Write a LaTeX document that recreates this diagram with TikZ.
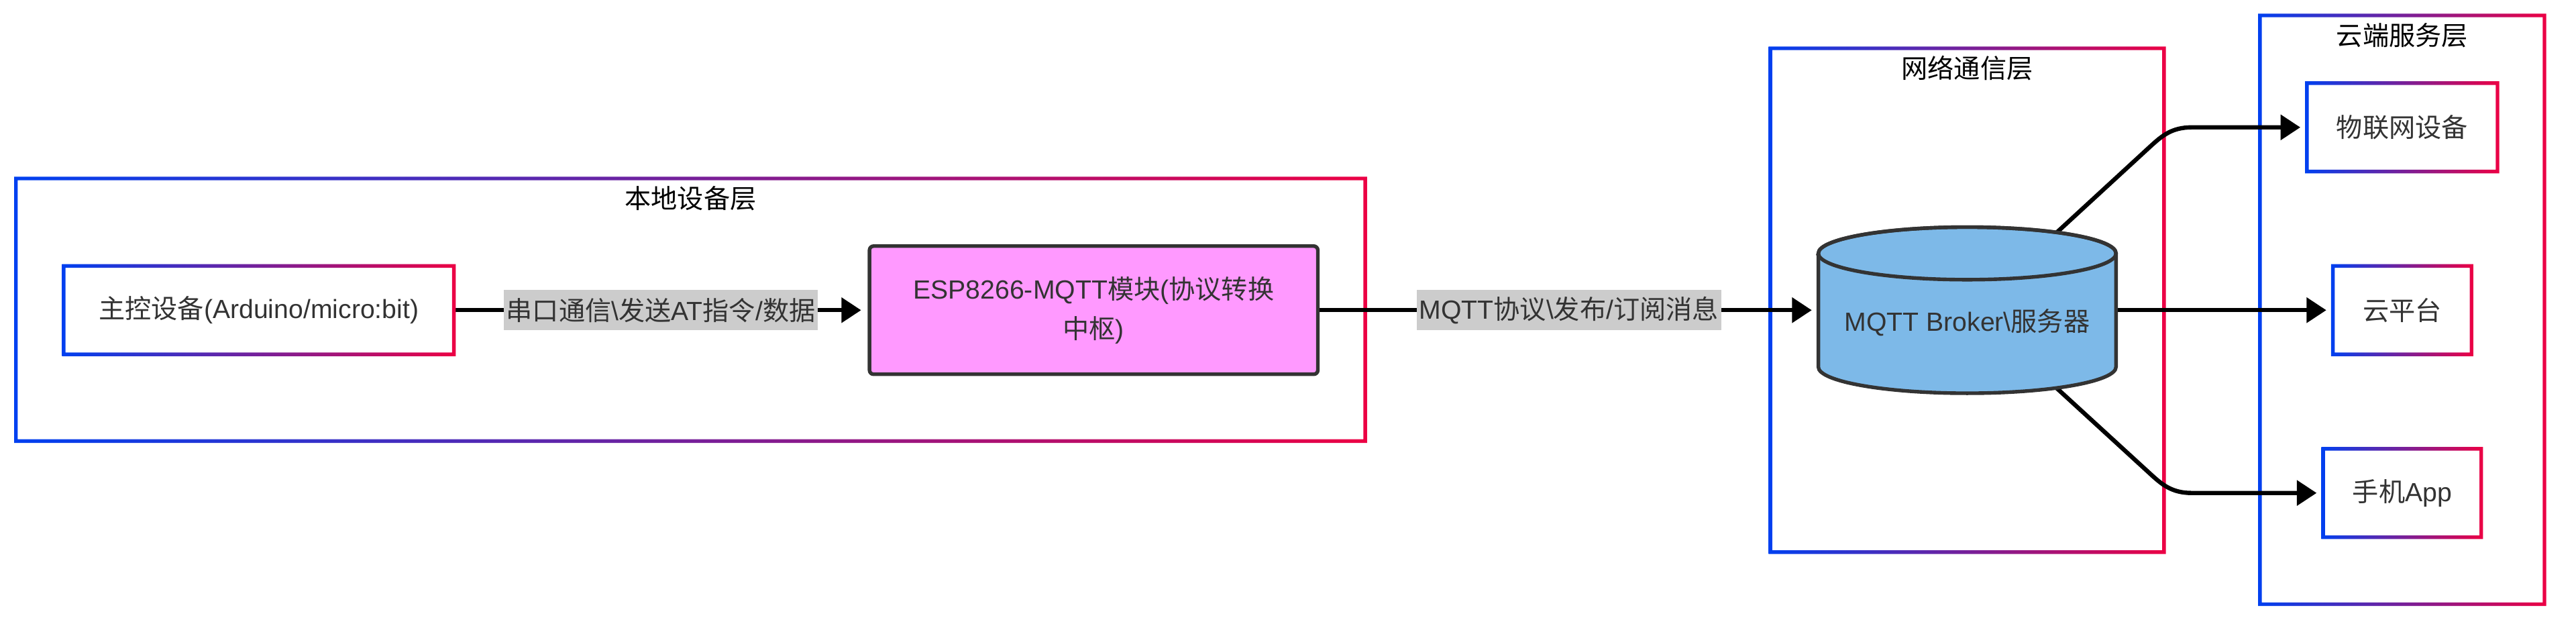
\documentclass[tikz,border=0pt]{standalone}
\usepackage{fontspec}
\setmainfont{Liberation Sans}
\newfontfamily\zhfont{Noto Sans CJK SC}
\newcommand\zh[1]{{\zhfont #1}}
\usetikzlibrary{arrows.meta,positioning,backgrounds}
\definecolor{gblue}{RGB}{0,64,240}
\definecolor{gred}{RGB}{236,0,68}
\definecolor{txtgray}{RGB}{51,51,51}
\definecolor{espfill}{RGB}{255,153,255}
\definecolor{dbfill}{RGB}{125,185,232}
\definecolor{lblgray}{RGB}{204,204,204}

% gradient frame round a named node
\newcommand\gradframe[1]{%
  \shade[left color=gblue, right color=gred, even odd rule]
    ([shift={(-1.1pt,1.1pt)}]#1.north west) rectangle ([shift={(1.1pt,-1.1pt)}]#1.south east)
    ([shift={(1.1pt,-1.1pt)}]#1.north west) rectangle ([shift={(-1.1pt,1.1pt)}]#1.south east);}

\begin{document}
\begin{tikzpicture}[
        x=1pt, y=-1pt,
        every node/.style={font=\fontsize{16}{24}\selectfont},
        layer/.style={inner sep=0pt, outer sep=0pt},
        title/.style={text=black, inner sep=0pt},
        box/.style={text=txtgray, inner sep=0pt, outer sep=0pt, minimum height=53.8},
        espbox/.style={draw=txtgray, fill=espfill, line width=2.2pt, rounded corners=2.5pt,
            text=txtgray, align=center, inner sep=0pt, minimum width=272.9, minimum height=78},
        lbl/.style={fill=lblgray, text=txtgray, inner xsep=1.5pt, inner ysep=0pt, minimum height=24.4},
        arr/.style={-{Triangle[length=12pt,width=15pt]}, line width=2.6pt, shorten >=4pt}
    ]
    \useasboundingbox (0,0) rectangle (1568,378.5);

    % layers
    \node[layer, minimum width=821.3, minimum height=159.8] (local) at (420.35,188.5) {};
    \node[layer, minimum width=239.6, minimum height=306.6] (net) at (1197.4,182.7) {};
    \node[layer, minimum width=173.2, minimum height=358.3] (cloudside) at (1462.2,188.55) {};
    \begin{scope}[on background layer]
        \gradframe{local}
        \gradframe{net}
        \gradframe{cloudside}
    \end{scope}
    \node[title] (local-t) at ([yshift=-12pt]local.north) {\zh{本地设备层}};
    \node[title] (net-t) at ([yshift=-12pt]net.north) {\zh{网络通信层}};
    \node[title] (cloudside-t) at ([yshift=-12pt]cloudside.north) {\zh{云端服务层}};

    % nodes
    \node[box, minimum width=237.5] (mcu) at (157.55,188.75) {\zh{主控设备}(Arduino/micro:bit)};
    \node[espbox] (esp) at (665.7,188.75) {ESP8266-MQTT\zh{模块}(\zh{协议转换}\\\zh{中枢})};
    \node[layer, minimum width=181.2, minimum height=101.1] (broker) at (1197.4,188.75) {};
    \filldraw[fill=dbfill, draw=txtgray, line width=2.2pt]
        ([yshift=-16pt]broker.north west) -- ([yshift=16pt]broker.south west)
        arc[start angle=180, end angle=360, x radius=90.6pt, y radius=16pt]
        -- ([yshift=-16pt]broker.north east)
        arc[start angle=0, end angle=180, x radius=90.6pt, y radius=16pt] -- cycle;
    \draw[txtgray, line width=2.2pt] ([yshift=-16pt]broker.north) ellipse[x radius=90.6pt, y radius=16pt];
    \node[text=txtgray, inner sep=0pt] (broker-t) at ([yshift=-7.5pt]broker.center) {MQTT Broker\textbackslash\zh{服务器}};
    \node[box, minimum width=116] (iot) at (1462.2,77.5) {\zh{物联网设备}};
    \node[box, minimum width=84.4] (cloud) at (1462.2,188.75) {\zh{云平台}};
    \node[box, minimum width=96.2] (app) at (1462.2,300) {\zh{手机}App};
    \foreach \n in {mcu,iot,cloud,app} {\gradframe{\n}}

    % connectors
    \coordinate (up1) at (1309,89);
    \coordinate (up2) at (1334,77.5);
    \coordinate (dn1) at (1309,288.5);
    \coordinate (dn2) at (1334,300);
    \begin{scope}[on background layer]
        \draw[arr] (mcu.east) -- node[lbl] {\zh{串口通信}\textbackslash\zh{发送}AT\zh{指令}/\zh{数据}} (esp.west);
        \draw[arr] (esp.east) -- node[lbl] {MQTT\zh{协议}\textbackslash\zh{发布}/\zh{订阅消息}} (broker.west);
        \draw[arr] ([shift={(54.6pt,-3.2pt)}]broker.north) -- (up1)
            .. controls (1316,82.6) and (1322,77.5) .. (up2) -- (iot.west);
        \draw[arr] (broker.east) -- (cloud.west);
        \draw[arr] ([shift={(54.6pt,3pt)}]broker.south) -- (dn1)
            .. controls (1316,294.9) and (1322,300) .. (dn2) -- (app.west);
    \end{scope}
\end{tikzpicture}
\end{document}
